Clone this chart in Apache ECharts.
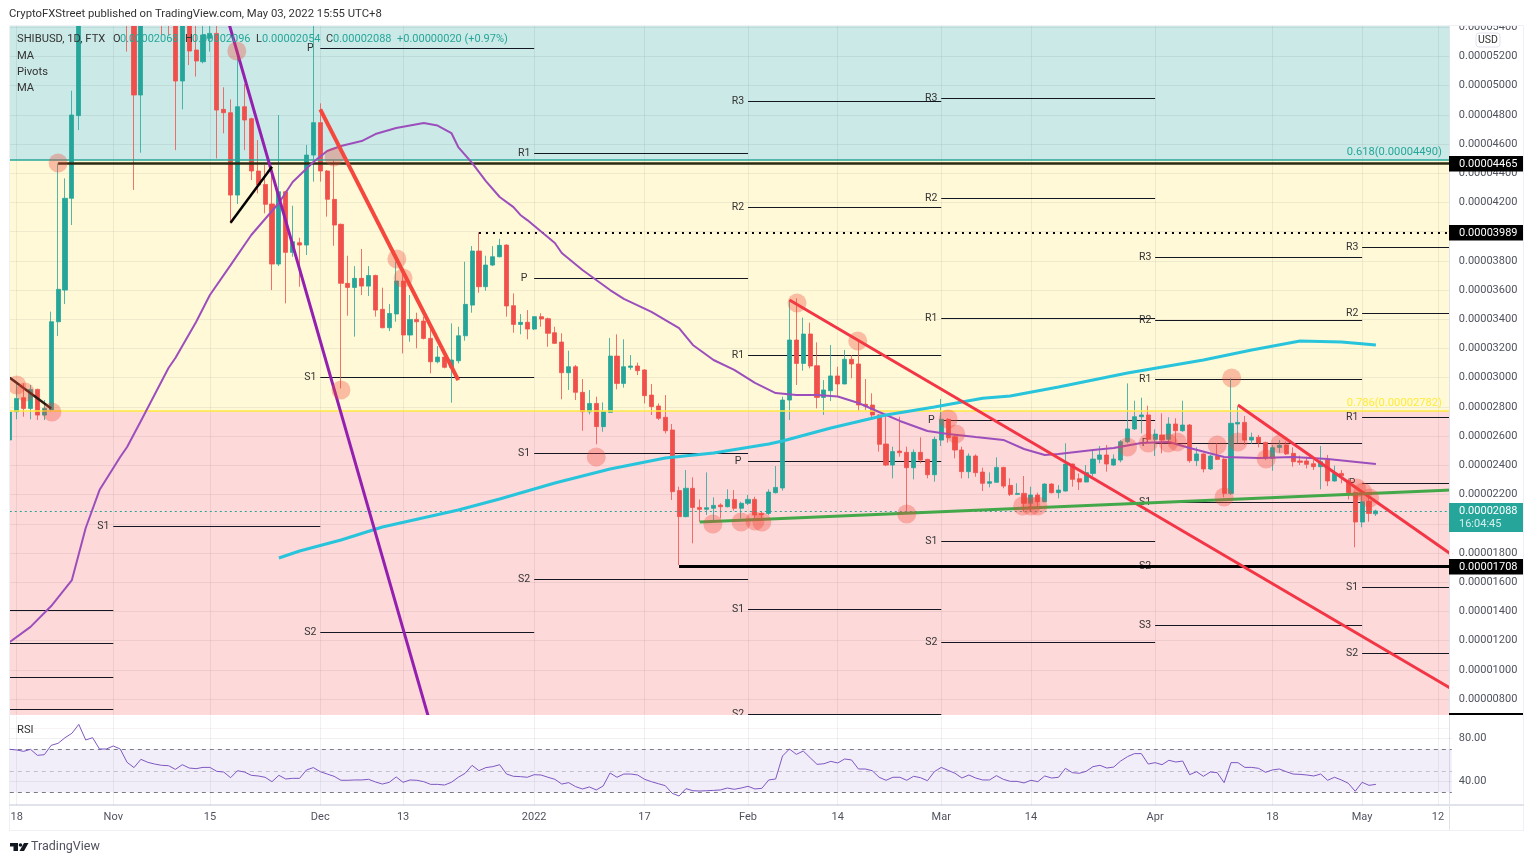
<!DOCTYPE html>
<html>
<head>
<meta charset="utf-8">
<title>SHIBUSD</title>
<script src="https://cdn.jsdelivr.net/npm/echarts@6/dist/echarts.min.js"></script>
<style>
html, body { margin: 0; padding: 0; background: #fff; }
#chart { width: 1536px; height: 864px; }
</style>
</head>
<body>
<div id="chart"></div>
<script>
// prices are in units of 0.00000001 USD, index 0 = Oct 17 2021
const opens = [2574,2767,2863,2790,2920,2744,2779,3383,3600,4228,4794,6100,7000,6900,7300,7400,7200,6800,6000,4935,5750,5700,5900,5800,5700,5031,5600,5243,5163,5323,5357,4837,4814,4250,4855,4773,4415,4323,4189,3778,4273,3858,3924,3908,4524,4746,4415,4221,4050,3646,3618,3680,3627,3700,3468,3342,3436,3662,3292,3399,3388,3269,3109,3141,3071,3116,3287,3497,3867,3623,3771,3828,3908,3493,3365,3379,3333,3418,3404,3308,3244,3034,3075,2900,2767,2824,2665,2763,3148,2961,3071,3080,3053,2881,2806,2729,2642,2227,2049,2243,2112,2099,2106,2128,2117,2167,2106,2140,2167,2071,2071,2213,2245,2847,3258,3098,3299,3082,2865,2911,3012,2957,3126,3094,2818,2813,2745,2546,2402,2498,2489,2384,2489,2441,2336,2573,2715,2596,2505,2357,2464,2354,2277,2284,2386,2263,2201,2208,2140,2197,2151,2272,2213,2224,2409,2309,2286,2345,2441,2471,2402,2436,2562,2649,2733,2745,2578,2608,2578,2683,2637,2676,2432,2478,2375,2464,2443,2208,2683,2694,2573,2592,2557,2448,2523,2539,2482,2430,2430,2411,2391,2436,2293,2345,2295,2213,2012,2156,2068];
const closes = [2765,2858,2790,2920,2744,2790,3383,3605,4228,4798,6100,7000,6900,7300,7400,7200,6800,6000,4935,5750,5700,5900,5800,5700,5031,5600,5236,5168,5346,5357,4832,4814,4250,4855,4764,4415,4319,4187,3778,4273,3858,3931,3908,4524,4746,4415,4221,4045,3646,3618,3680,3627,3700,3463,3342,3440,3662,3292,3399,3383,3269,3109,3141,3071,3121,3287,3502,3867,3623,3771,3828,3906,3491,3365,3379,3333,3418,3402,3304,3235,3034,3075,2900,2767,2824,2665,2767,3148,2961,3075,3080,3048,2877,2802,2722,2637,2220,2049,2243,2112,2099,2110,2126,2117,2167,2106,2140,2167,2060,2062,2217,2249,2847,3258,3098,3299,3080,2865,2916,3012,2957,3126,3094,2813,2806,2745,2544,2402,2494,2487,2384,2489,2436,2336,2578,2715,2589,2505,2357,2464,2350,2277,2288,2386,2258,2201,2208,2140,2197,2151,2272,2213,2231,2409,2304,2286,2350,2443,2471,2409,2443,2562,2649,2733,2745,2578,2614,2573,2683,2637,2676,2432,2478,2375,2464,2441,2208,2688,2694,2573,2592,2555,2448,2521,2537,2478,2425,2421,2407,2391,2425,2293,2345,2329,2213,2012,2151,2071,2088];
const lows = [2382,2715,2733,2715,2710,2710,2767,3285,3504,4045,4695,5800,6000,6700,6900,6700,6300,5232,4285,4540,5500,5500,5346,5346,4558,4837,5140,5061,5152,5232,4501,4673,4056,4189,4558,4353,4262,4125,3600,3764,3509,3828,3623,3840,4342,4342,4102,3903,2927,3424,3281,3566,3559,3418,3338,3319,3383,3166,3246,3201,3262,3030,3098,3064,2829,3098,3253,3445,3582,3595,3764,3824,3418,3308,3297,3263,3326,3349,3212,3231,2852,2916,2847,2637,2749,2544,2630,2761,2920,2932,3053,3018,2824,2745,2710,2619,2163,1718,2044,1866,2014,2060,2014,2037,2112,2090,2037,2128,2037,2037,2060,2208,2227,2710,2950,3048,3064,2790,2745,2840,2870,2955,2996,2774,2779,2715,2494,2395,2311,2459,2071,2304,2414,2311,2288,2532,2555,2448,2311,2311,2322,2224,2249,2281,2243,2190,2197,2083,2083,2117,2148,2208,2174,2220,2254,2231,2284,2327,2414,2357,2395,2421,2551,2642,2619,2555,2464,2482,2551,2551,2630,2418,2395,2352,2368,2436,2181,2197,2551,2539,2546,2523,2436,2363,2487,2471,2391,2402,2379,2368,2236,2258,2288,2277,2167,1839,1976,2014,2054];
const highs = [2779,2961,2961,2950,2925,2847,3452,4467,4365,4965,6300,8800,7500,7600,7700,7600,7400,7000,6100,5900,6000,6100,6000,6000,5800,5700,5700,5430,5450,5420,5420,4988,4905,5232,5010,4780,4627,4456,4444,4798,4280,4177,3958,4593,5420,4878,4422,4490,4055,3835,3764,3881,3764,3705,3616,3504,3794,3737,3566,3445,3418,3349,3217,3189,3372,3349,3794,3901,3995,3835,3901,3951,3912,3577,3436,3463,3420,3441,3411,3349,3304,3185,3087,2991,2916,2870,2831,3272,3297,3263,3155,3103,3058,2957,2824,2881,2683,2254,2368,2318,2167,2352,2181,2140,2236,2231,2151,2197,2185,2083,2236,2395,2870,3532,3543,3411,3377,3242,2984,3224,3075,3190,3155,3247,2991,2893,2750,2745,2528,2733,2528,2509,2592,2445,2596,2854,2722,2608,2528,2482,2475,2384,2352,2455,2390,2311,2277,2327,2254,2213,2277,2277,2265,2551,2412,2345,2402,2510,2532,2539,2475,2573,2961,2843,2863,2808,2646,2756,2729,2722,2843,2683,2523,2482,2471,2551,2448,2996,2802,2738,2624,2608,2562,2539,2573,2562,2523,2466,2459,2436,2532,2471,2398,2368,2311,2220,2220,2208,2096];
const rsiValues = [70,69.4,68.1,70,64.4,65,73.7,75.6,80.8,84.9,93.2,78.7,80.8,70.3,70.3,73.1,70.3,57.9,53,60.7,57.9,56.3,55.1,54.8,51.4,55.7,52.6,52,53.2,53.2,49.5,48.9,43.6,50.1,48.9,45.8,45.2,44,39.9,45.8,42.4,43,43,50.8,53,49.2,47,44.9,41.2,41.2,41.5,41.5,42.1,39.6,37.7,39.3,44.3,39.3,41.5,41.2,39.9,37.4,37.4,36.8,39.3,44,47.7,55.1,50.1,53,53.9,55.7,47,44.9,44.6,44,46.4,46.1,44,42.1,37.7,39,35.3,33.1,35,32.2,35.9,48,44,47,47,46.1,42.1,39.9,38,36.2,29.1,26.6,33.4,31.5,31.2,31.5,31.8,32.2,34,32.8,34,35.6,33.1,33.7,41.5,42.4,63.8,70.3,65.3,68.4,62.2,56,56.6,58.8,57.3,61,60.1,51.7,51.7,50.1,44,41.2,44,44,41.2,44.9,43.6,40.8,49.2,53.2,50.4,47.7,43.3,46.1,43.3,41.5,41.5,45.5,42.1,40.2,40.2,38.7,41.2,39.9,45.2,43.3,44,52.3,48.3,47.7,49.5,53.9,55.1,52.6,53.5,59.1,63.2,66,66,56.3,57.6,55.7,59.8,58.2,59.1,46.4,49.2,44.9,48.9,48.3,39,57.6,57.6,53.2,53.2,52.3,48.6,50.8,51.7,49.2,47,46.7,46.1,45.2,47,41.2,44,41.5,38.4,31,39.3,36.5,37.4];

// moving averages, [day index, price]
const maShort = [[0,1191],[3,1294],[6,1437],[9,1615],[11,1971],[13,2231],[16,2457],[17,2526],[19,2704],[23,3066],[24,3135],[27,3381],[29,3566],[32,3771],[35,3977],[39,4196],[41,4340],[44,4476],[46,4552],[48,4586],[51,4620],[53,4668],[56,4709],[60,4743],[62,4726],[64,4675],[65,4579],[67,4470],[69,4346],[71,4237],[73,4168],[74,4114],[75,4079],[79,3922],[80,3854],[83,3737],[86,3635],[87,3600],[89,3539],[93,3450],[97,3340],[99,3224],[102,3121],[105,3053],[108,2964],[111,2895],[114,2882],[117,2882],[120,2871],[123,2827],[126,2765],[129,2704],[133,2635],[136,2615],[140,2594],[144,2574],[147,2512],[150,2471],[152,2478],[157,2505],[160,2519],[164,2553],[168,2560],[171,2519],[176,2457],[181,2450],[186,2457],[191,2443],[198,2409]];
const maLong = [[39,1766],[42,1814],[48,1889],[54,1978],[65,2094],[71,2170],[79,2279],[87,2375],[95,2450],[102,2485],[110,2546],[112,2567],[119,2656],[127,2745],[134,2799],[141,2859],[145,2875],[152,2936],[162,3032],[173,3121],[180,3190],[187,3251],[193,3244],[198,3224]];

// trend lines, [day index, price]
const purpleTrend = [[30,5715],[61,623]];
const blackTrendA = [[32,4061],[38,4444]];
const blackTrendB = [[0,3000],[6,2789]];
const redTrendA = [[45,4837],[65,2984]];
const redTrendB = [[113,3532],[209,869]];
const redTrendC = [[178,2813],[209,1788]];
const greenTrend = [[100,2012],[209,2231]];

// pivots: label, first day, last day, price
const pivots = [
  ['', 0, 15, 1410], ['', 0, 15, 1184], ['', 0, 15, 951], ['', 0, 15, 732],
  ['S1', 15, 45, 1985],
  ['P', 45, 76, 5257], ['S1', 45, 76, 3001], ['S2', 45, 76, 1259],
  ['R1', 76, 107, 4538], ['P', 76, 107, 3682], ['S1', 76, 107, 2481], ['S2', 76, 107, 1622],
  ['R3', 107, 135, 4894], ['R2', 107, 135, 4168], ['R1', 107, 135, 3155], ['P', 107, 135, 2430], ['S1', 107, 135, 1417], ['S2', 107, 135, 698],
  ['R3', 135, 166, 4915], ['R2', 135, 166, 4230], ['R1', 135, 166, 3405], ['P', 135, 166, 2707], ['S1', 135, 166, 1882], ['S2', 135, 166, 1191],
  ['R3', 166, 196, 3826], ['R2', 166, 196, 3395], ['R1', 166, 196, 2991], ['P', 166, 196, 2553], ['S1', 166, 196, 2149], ['S2', 166, 196, 1711], ['S3', 166, 196, 1307],
  ['R3', 196, 209, 3895], ['R2', 196, 209, 3443], ['R1', 196, 209, 2731], ['P', 196, 209, 2279], ['S1', 196, 209, 1564], ['S2', 196, 209, 1116]
];

// touch points: [day index, price]
const touches = [[7,4470],[1,2950],[2.2,2902],[6.1,2765],[32.9,5236],[44,5435],[47,4511],[48,2916],[56.1,3813],[57,3682],[85,2457],[101.9,1999],[106,2012],[108,2019],[109,2012],[114.1,3511],[122.9,3251],[130,2067],[136,2717],[137.1,2615],[146.8,2122],[148,2122],[149,2122],[162,2526],[165,2553],[167.9,2553],[169.2,2560],[175,2539],[178,2560],[176,2183],[177.1,2998],[182.1,2443],[184.1,2546],[195.2,2245],[196.1,2218],[197.1,2177]];

const fib618 = 4490;
const fib786 = 2775;
const resistance = 4465;
const highLevel = 3989;
const support = 1708;
const lastPrice = 2088;

// x axis
const dayCount = 210;
const tickLabels = { 1: '18', 15: 'Nov', 29: '15', 45: 'Dec', 57: '13', 76: '2022', 92: '17', 107: 'Feb', 120: '14', 135: 'Mar', 148: '14', 166: 'Apr', 183: '18', 196: 'May', 207: '12' };
const days = [];
for (let i = 0; i < dayCount; i++) {
    days.push(String(i));
}

const isTick = (index) => tickLabels[index] !== undefined;
const candles = days.map((d, i) => i < opens.length ? [opens[i], closes[i], lows[i], highs[i]] : '-');

const font = 'Roboto, sans-serif';
const axisColor = '#50535e';
const gridColor = 'rgba(42,46,57,0.07)';

function overlay(name, data, color, width) {
    return {
        name: name, type: 'line', xAxisIndex: 2, yAxisIndex: 0, data: data, symbol: 'none',
        silent: true, lineStyle: { color: color, width: width }, z: 4
    };
}
function level(price, from, color, width, type) {
    return [{ coord: [from, price], lineStyle: { color: color, width: width, type: type || 'solid' } }, { coord: [209, price] }];
}
function text(x, y, str, color, size, align, weight) {
    return {
        type: 'text', x: x, y: y, z: 120, silent: true,
        style: { text: str, fill: color || '#131722', font: (weight || 'normal') + ' ' + (size || 11) + 'px ' + font, textAlign: align || 'left', textVerticalAlign: 'middle' }
    };
}
function box(x, y, w, h, fill, z) {
    return { type: 'rect', z: z || 110, silent: true, shape: { x: x, y: y, width: w, height: h }, style: { fill: fill } };
}

const upColor = '#26a69a';
const graphics = [
    // covers that trim the panes where the axes or candles run past the drawn area
    box(0, 715, 1449.5, 13.5, '#fff', 100),
    box(1449.5, 25.7, 3, 780, '#fff', 100),
    box(0, 0, 1536, 25.7, '#fff', 100),
    box(0, 0, 9.8, 830, '#fff', 100),
    box(9.5, 25, 1514, 1, '#eef0f6', 101),
    box(1449, 26, 1, 804, '#e0e3eb', 101),
    box(1523, 26, 1, 804, '#eef0f6', 101),
    box(9, 26, 1, 804, '#eef0f6', 101),
    box(9, 804, 1515, 2, '#e0e3eb', 101),
    box(9, 830, 1515, 1, '#eef0f6', 101),
    box(1449, 713, 74, 2, '#000', 101),

    text(9, 14, 'CryptoFXStreet published on TradingView.com, May 03, 2022 15:55 UTC+8', '#333', 11.3),
    text(17, 39, 'SHIBUSD, 1D, FTX', '#333', 11.2),
    text(113, 39, 'O', '#333'), text(120, 39, '0.00002068', upColor),
    text(185, 39, 'H', '#333'), text(192, 39, '0.00002096', upColor),
    text(256, 39, 'L', '#333'), text(262, 39, '0.00002054', upColor),
    text(326, 39, 'C', '#333'), text(333, 39, '0.00002088', upColor),
    text(397, 39, '+0.00000020 (+0.97%)', upColor),
    text(17, 56, 'MA', '#333', 11.2), text(17, 72, 'Pivots', '#333', 11.2), text(17, 88, 'MA', '#333', 11.2),
    text(17, 730, 'RSI', '#333', 11.2),

    text(1442, 152, '0.618(0.00004490)', upColor, 11.2, 'right'),
    text(1442, 403, '0.786(0.00002782)', '#ffeb3b', 11.2, 'right'),

    { type: 'rect', z: 115, silent: true, shape: { x: 1476, y: 33, width: 24, height: 14, r: 3 }, style: { fill: '#fff', stroke: '#e0e3eb' } },
    text(1488, 40, 'USD', '#333', 10.5, 'center'),

    box(1449, 156, 74, 15.5, '#000', 115), text(1459, 164, '0.00004465', '#fff', 11),
    box(1449, 225, 74, 15.5, '#000', 115), text(1459, 233, '0.00003989', '#fff', 11),
    box(1449, 559, 74, 15.5, '#000', 115), text(1459, 567, '0.00001708', '#fff', 11),
    box(1449, 503, 74, 29, upColor, 115),
    text(1459, 511, '0.00002088', '#fff', 11), text(1459, 524, '16:04:45', '#d4eeeb', 11),

    // TradingView mark
    box(10, 843, 8, 3.5, '#131722', 120), box(13.5, 843, 4.5, 8, '#131722', 120),
    { type: 'circle', z: 120, silent: true, shape: { cx: 20.5, cy: 845, r: 1.8 }, style: { fill: '#131722' } },
    { type: 'polygon', z: 120, silent: true, shape: { points: [[24, 843], [28.5, 843], [24, 851], [19.5, 851]] }, style: { fill: '#131722' } },
    text(31, 847, 'TradingView', '#50535e', 12.5)
];

const option = {
    animation: false,
    backgroundColor: '#fff',
    textStyle: { fontFamily: font },
    grid: [
        { left: 9.8, width: 1442, top: 25.7, height: 702.6 },
        { left: 9.8, width: 1442, top: 716, height: 89 }
    ],
    xAxis: [
        {
            type: 'category', gridIndex: 0, data: days, boundaryGap: false,
            axisLine: { show: false }, axisTick: { show: false }, axisLabel: { show: false },
            splitLine: { show: true, interval: (i) => isTick(i), lineStyle: { color: gridColor } }
        },
        {
            type: 'category', gridIndex: 1, data: days, boundaryGap: false, z: 110,
            axisLine: { show: false }, axisTick: { show: false },
            axisLabel: {
                interval: (i) => isTick(i), formatter: (v, i) => tickLabels[v] || '',
                color: axisColor, fontSize: 11, margin: 7, hideOverlap: false
            },
            splitLine: { show: true, interval: (i) => isTick(i), lineStyle: { color: gridColor } }
        },
        { type: 'value', gridIndex: 0, min: 0, max: 209, show: false, splitLine: { show: false } }
    ],
    yAxis: [
        {
            type: 'value', gridIndex: 0, position: 'right', min: 600, max: 5409.6, interval: 200,
            axisLine: { show: false }, axisTick: { show: false },
            axisLabel: {
                color: axisColor, fontSize: 11, margin: 7, align: 'left',
                showMinLabel: false, showMaxLabel: false,
                formatter: (v) => (v % 200 === 0 && v > 600) ? (v / 1e8).toFixed(8) : ''
            },
            splitLine: { show: true, lineStyle: { color: gridColor } }
        },
        {
            type: 'value', gridIndex: 1, position: 'right', min: 18.2, max: 101, z: 110,
            axisLine: { show: false }, axisTick: { show: false }, splitLine: { show: false },
            axisLabel: { customValues: [40, 80], color: axisColor, fontSize: 11, margin: 7, align: 'left', formatter: (v) => v.toFixed(2) }
        }
    ],
    graphic: { elements: graphics },
    series: [
        {
            name: 'zones', type: 'line', xAxisIndex: 2, yAxisIndex: 0, data: [], silent: true, z: -2,
            markArea: {
                silent: true, z: -2,
                data: [
                    [{ yAxis: fib618, itemStyle: { color: '#cbe9e6' } }, { yAxis: 5409.6 }],
                    [{ yAxis: fib786, itemStyle: { color: '#fff9d8' } }, { yAxis: fib618 }],
                    [{ yAxis: 600, itemStyle: { color: '#fdd9d9' } }, { yAxis: fib786 }]
                ]
            }
        },
        {
            name: 'Pivots', type: 'line', xAxisIndex: 2, yAxisIndex: 0, data: [], silent: true, z: 1,
            markLine: {
                silent: true, z: 1, symbol: 'none', animation: false,
                lineStyle: { color: '#131722', width: 1, type: 'solid' },
                label: { position: 'start', formatter: '{b}', color: '#333', fontSize: 10.5, distance: 10, align: 'center', fontFamily: font },
                data: pivots.map(p => [{ name: p[0], coord: [p[1], p[3]] }, { coord: [p[2], p[3]] }])
            }
        },
        {
            name: 'SHIBUSD', type: 'candlestick', xAxisIndex: 0, yAxisIndex: 0, data: candles, barWidth: 4.6, z: 2,
            silent: true,
            itemStyle: { color: upColor, color0: '#f0504c', borderColor: 'rgba(38,166,154,0.8)', borderColor0: 'rgba(240,80,76,0.8)', borderWidth: 1 }
        },
        {
            name: 'levels', type: 'line', xAxisIndex: 2, yAxisIndex: 0, data: [], silent: true, z: 3,
            markLine: {
                silent: true, z: 3, symbol: 'none', animation: false, label: { show: false },
                data: [
                    level(fib618, 0, upColor, 1.5),
                    level(fib786, 0, '#ffeb3b', 1.5),
                    level(resistance, 7, '#2b2a10', 2.5),
                    level(support, 97, '#000', 3),
                    level(highLevel, 68, '#000', 2, [2, 5]),
                    level(lastPrice, 0, upColor, 1, [2, 3])
                ]
            }
        },
        overlay('MA', maShort, '#9c4fbc', 2),
        overlay('MA', maLong, '#28c4dc', 3),
        overlay('trend', purpleTrend, '#9420b0', 3),
        overlay('trend', blackTrendA, '#000', 2.5),
        overlay('trend', blackTrendB, '#2a1a10', 2.5),
        overlay('trend', redTrendA, '#f4483f', 4),
        overlay('trend', redTrendB, '#f23645', 3),
        overlay('trend', redTrendC, '#f23645', 3),
        overlay('trend', greenTrend, '#43a84a', 3),
        {
            name: 'touches', type: 'scatter', xAxisIndex: 2, yAxisIndex: 0, data: touches, symbolSize: 19, silent: true, z: 5,
            itemStyle: { color: 'rgba(240,70,55,0.42)' }
        },
        {
            name: 'RSI', type: 'line', xAxisIndex: 1, yAxisIndex: 1, data: rsiValues, symbol: 'none', silent: true, z: 111,
            lineStyle: { color: '#7e57c2', width: 1 },
            markArea: {
                silent: true, z: 109,
                itemStyle: { color: 'rgba(126,87,194,0.1)' },
                data: [[{ yAxis: 30 }, { yAxis: 70 }]]
            },
            markLine: {
                silent: true, z: 110, symbol: 'none', animation: false, label: { show: false },
                data: [
                    { yAxis: 80, lineStyle: { color: gridColor, width: 1, type: 'solid' } },
                    { yAxis: 40, lineStyle: { color: gridColor, width: 1, type: 'solid' } },
                    { yAxis: 70, lineStyle: { color: '#787b86', width: 1, type: [4, 4] } },
                    { yAxis: 50, lineStyle: { color: '#c0bec8', width: 1, type: [4, 4] } },
                    { yAxis: 30, lineStyle: { color: '#787b86', width: 1, type: [4, 4] } }
                ]
            }
        }
    ]
};

let myChart = echarts.init(document.getElementById('chart'));
myChart.setOption(option);
</script>
</body>
</html>
